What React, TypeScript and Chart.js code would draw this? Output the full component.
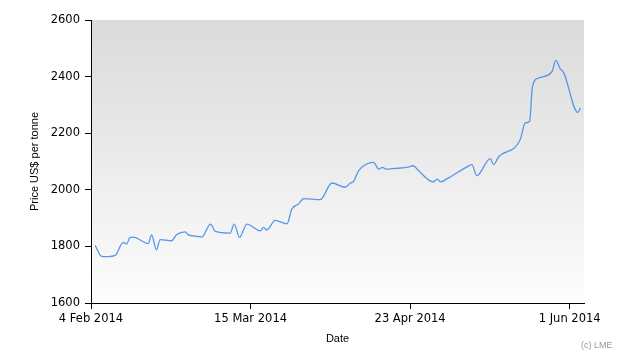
import React, { useEffect, useRef } from "react";
import { Chart, registerables } from "chart.js";

Chart.register(...registerables);

// Days elapsed since 4 Feb 2014
const dayOffsets = [
  1.0, 2.6, 4.2, 5.9, 7.9, 8.7, 9.5, 10.3, 14.0, 14.8, 16.0, 16.9, 19.7, 20.9,
  23.0, 23.8, 26.2, 27.1, 29.2, 30.4, 34.0, 35.0, 36.3, 38.1, 41.4, 42.2, 43.0,
  45.0, 47.9, 49.1, 50.7, 52.0, 56.0, 58.9, 62.1, 63.4, 64.2, 65.4, 69.1, 70.3,
  71.3, 72.1, 75.6, 77.2, 78.8, 79.7, 83.7, 84.6, 85.4, 87.4, 91.9, 93.1, 94.3,
  97.6, 98.4, 99.6, 104.9, 106.1, 107.2, 107.9, 109.4, 112.7, 113.6, 114.7,
  115.5, 119.0, 119.6,
];
const prices = [
  1804, 1765, 1764, 1768, 1814, 1808, 1831, 1833, 1810, 1841, 1788, 1824, 1820,
  1841, 1851, 1841, 1835, 1833, 1879, 1853, 1847, 1879, 1832, 1879, 1855, 1867,
  1858, 1892, 1880, 1932, 1950, 1969, 1965, 2024, 2009, 2024, 2030, 2067, 2097,
  2073, 2079, 2073, 2077, 2079, 2085, 2073, 2028, 2038, 2028, 2042, 2081, 2089,
  2050, 2110, 2089, 2116, 2177, 2236, 2242, 2365, 2395, 2418, 2457, 2427, 2415,
  2273, 2289,
];
const tickDays = [0, 39, 78, 117];
const tickLabels = ["4 Feb 2014", "15 Mar 2014", "23 Apr 2014", "1 Jun 2014"];
const yTicks = [1600, 1800, 2000, 2200, 2400, 2600];

const bgPlugin = {
  id: "bgGradient",
  beforeDraw(chart: any) {
    const { ctx, chartArea } = chart;
    if (!chartArea) return;
    const g = ctx.createLinearGradient(0, chartArea.top, 0, chartArea.bottom);
    g.addColorStop(0, "#dadada");
    g.addColorStop(1, "#fdfdfd");
    ctx.save();
    ctx.fillStyle = g;
    ctx.fillRect(chartArea.left, chartArea.top, chartArea.right - chartArea.left, chartArea.bottom - chartArea.top);
    ctx.restore();
  },
  afterDraw(chart: any) {
    const { ctx } = chart;
    ctx.save();
    ctx.fillStyle = "#999999";
    ctx.font = "9px 'Liberation Sans', Arial, sans-serif";
    ctx.textAlign = "left";
    ctx.textBaseline = "middle";
    ctx.fillText("(c) LME", 581, 346);
    ctx.restore();
  },
};

export default function App() {
  const ref = useRef<HTMLCanvasElement>(null);
  useEffect(() => {
    if (!ref.current) return;
    const tickFont = { family: "'DejaVu Sans', Verdana, sans-serif", size: 11.5 };
    const titleFont = { family: "'Liberation Sans', Arial, sans-serif", size: 11 };
    const chart = new Chart(ref.current, {
      type: "line",
      data: {
        datasets: [
          {
            data: dayOffsets.map((d, i) => ({ x: d, y: prices[i] })),
            borderColor: "rgb(88,150,236)",
            borderWidth: 1.3,
            pointRadius: 0,
            fill: false,
            cubicInterpolationMode: "monotone",
          },
        ],
      },
      options: {
        animation: false,
        responsive: false,
        events: [],
        layout: { padding: { left: 0, right: 46, top: 20, bottom: 14 } },
        plugins: { legend: { display: false }, tooltip: { enabled: false } },
        scales: {
          x: {
            type: "linear",
            min: 0,
            max: 120.5,
            afterBuildTicks: (scale: any) => {
              scale.ticks = tickDays.map((v) => ({ value: v }));
            },
            afterFit: (scale: any) => {
              scale.height = 43;
            },
            ticks: {
              autoSkip: false,
              maxRotation: 0,
              color: "#000",
              font: tickFont,
              padding: 3,
              callback: (v: any) => {
                const i = tickDays.indexOf(Number(v));
                return i >= 0 ? tickLabels[i] : "";
              },
            },
            grid: { drawOnChartArea: false, drawTicks: true, tickLength: 6, color: "#000" },
            border: { display: true, color: "#000", width: 1 },
            title: { display: true, text: "Date", color: "#000", font: titleFont, padding: 0 },
          },
          y: {
            min: 1600,
            max: 2600,
            afterBuildTicks: (scale: any) => {
              scale.ticks = yTicks.map((v) => ({ value: v }));
            },
            afterFit: (scale: any) => {
              scale.width = 91;
            },
            ticks: { color: "#000", font: tickFont, padding: 5, callback: (v: any) => String(v) },
            grid: { drawOnChartArea: false, drawTicks: true, tickLength: 6, color: "#000" },
            border: { display: true, color: "#000", width: 1 },
            title: {
              display: true,
              text: "Price US$ per tonne",
              color: "#000",
              font: titleFont,
              padding: { top: 28, bottom: 0 },
            },
          },
        },
      },
      plugins: [bgPlugin],
    } as any);
    return () => chart.destroy();
  }, []);
  return (
    <div style={{ position: "fixed", left: 0, top: 0, width: 630, height: 360, background: "#fff" }}>
      <canvas ref={ref} width={630} height={360} style={{ width: 630, height: 360 }} />
    </div>
  );
}
